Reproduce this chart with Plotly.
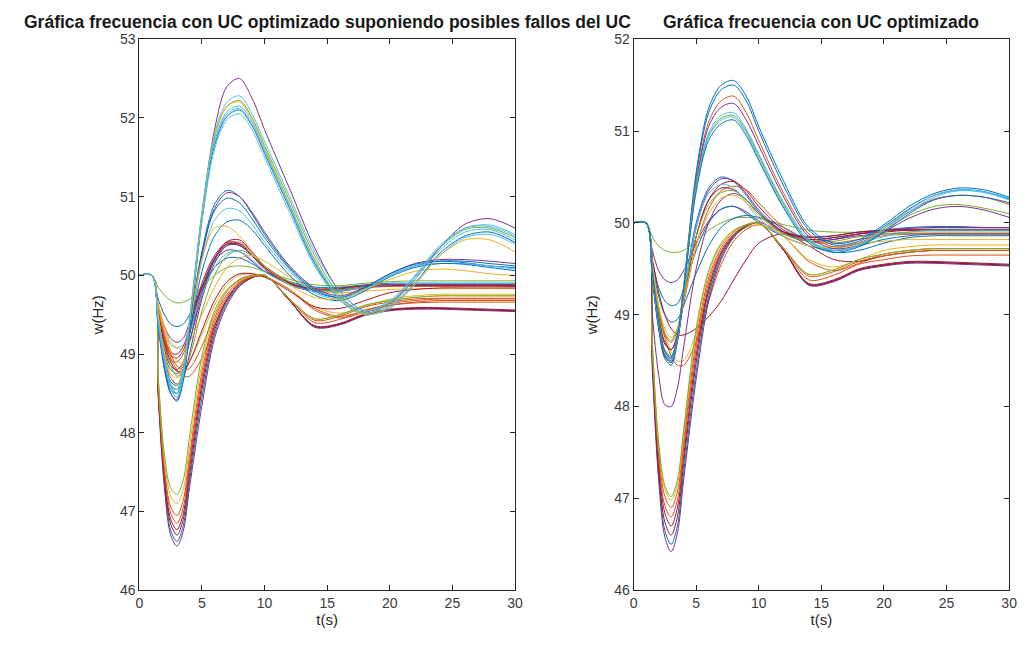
import plotly.graph_objects as go

# Sample instants (s) shared by every frequency trace
T = [0, 1, 1.5, 2, 2.5, 3, 3.5, 4, 5, 6, 7, 8, 9, 10, 12, 14, 16, 18, 20, 22, 24, 26, 28, 30]

X_TICKS = [0, 5, 10, 15, 20, 25, 30]
Y_TICKS_LEFT = [46, 47, 48, 49, 50, 51, 52, 53]
Y_TICKS_RIGHT = [46, 47, 48, 49, 50, 51, 52]

TITLE_LEFT = "Gráfica frecuencia con UC optimizado suponiendo posibles fallos del UC"
TITLE_RIGHT = "Gráfica frecuencia con UC optimizado"

# ---- Left panel: UC with possible unit failures (w in Hz) ----
left_big = [
    [50, 50, 49.45, 48.95, 48.6, 48.5, 48.75, 49.35, 50.75, 51.85, 52.4, 52.5, 52.25, 51.85, 51.1, 50.35, 49.8, 49.55, 49.65, 49.95, 50.35, 50.65, 50.72, 50.6],
    [50, 50, 49.4, 48.9, 48.55, 48.45, 48.7, 49.35, 50.8, 51.8, 52.2, 52.28, 52.05, 51.7, 51.0, 50.3, 49.8, 49.55, 49.68, 50.0, 50.38, 50.6, 50.62, 50.5],
    [50, 50, 49.45, 48.95, 48.6, 48.5, 48.75, 49.4, 50.8, 51.75, 52.15, 52.22, 52.0, 51.65, 50.95, 50.25, 49.75, 49.52, 49.65, 49.98, 50.35, 50.58, 50.6, 50.48],
    [50, 50, 49.4, 48.9, 48.55, 48.45, 48.7, 49.4, 50.75, 51.7, 52.08, 52.15, 51.95, 51.6, 50.9, 50.2, 49.72, 49.52, 49.62, 49.95, 50.32, 50.55, 50.58, 50.45],
    [50, 50, 49.35, 48.85, 48.5, 48.4, 48.65, 49.3, 50.7, 51.65, 52.02, 52.1, 51.9, 51.55, 50.85, 50.15, 49.7, 49.5, 49.6, 49.9, 50.28, 50.5, 50.55, 50.42],
    [50, 50, 49.4, 48.9, 48.6, 48.5, 48.75, 49.4, 50.7, 51.6, 51.98, 52.05, 51.85, 51.5, 50.8, 50.12, 49.68, 49.5, 49.58, 49.88, 50.25, 50.48, 50.52, 50.4],
    [50, 50, 49.5, 49.0, 48.7, 48.6, 48.8, 49.4, 50.75, 51.75, 52.15, 52.2, 51.98, 51.62, 50.9, 50.2, 49.7, 49.5, 49.6, 49.9, 50.25, 50.45, 50.45, 50.3],
    [50, 50, 49.45, 48.95, 48.62, 48.55, 48.8, 49.45, 50.78, 51.7, 52.05, 52.12, 51.92, 51.58, 50.88, 50.18, 49.72, 49.55, 49.66, 49.98, 50.36, 50.6, 50.64, 50.52],
]
left_big_colors = ["#7E2F8E", "#4DBEEE", "#77AC30", "#4DBEEE", "#0072BD", "#4DBEEE", "#EDB120", "#4DBEEE"]

left_mid = [
    [50, 50, 49.4, 48.85, 48.55, 48.5, 48.75, 49.3, 50.3, 50.9, 51.08, 51.0, 50.78, 50.52, 50.1, 49.82, 49.72, 49.82, 50.0, 50.12, 50.18, 50.18, 50.15, 50.12],
    [50, 50, 49.35, 48.8, 48.5, 48.42, 48.7, 49.25, 50.25, 50.85, 51.05, 51.0, 50.8, 50.55, 50.12, 49.84, 49.74, 49.85, 50.02, 50.15, 50.2, 50.2, 50.18, 50.15],
    [50, 50, 49.45, 48.9, 48.6, 48.55, 48.8, 49.35, 50.3, 50.82, 50.98, 50.92, 50.72, 50.48, 50.08, 49.8, 49.72, 49.84, 50.02, 50.14, 50.18, 50.16, 50.12, 50.1],
    [50, 50, 49.4, 48.9, 48.6, 48.55, 48.8, 49.3, 50.2, 50.7, 50.85, 50.82, 50.65, 50.42, 50.05, 49.78, 49.7, 49.82, 50.0, 50.12, 50.15, 50.15, 50.12, 50.08],
    [50, 50, 49.45, 48.95, 48.65, 48.6, 48.8, 49.25, 50.05, 50.5, 50.68, 50.7, 50.58, 50.38, 50.0, 49.75, 49.68, 49.8, 49.98, 50.1, 50.15, 50.14, 50.1, 50.06],
    [50, 50, 49.5, 49.0, 48.75, 48.7, 48.9, 49.35, 50.2, 50.6, 50.62, 50.5, 50.3, 50.12, 49.88, 49.72, 49.7, 49.82, 49.95, 50.05, 50.08, 50.06, 50.02, 50.0],
]
left_mid_colors = ["#0072BD", "#7E2F8E", "#0072BD", "#4DBEEE", "#0072BD", "#EDB120"]

left_normal = [
    [50, 50, 49.85, 49.75, 49.68, 49.65, 49.66, 49.7, 49.85, 50.0, 50.1, 50.12, 50.1, 50.05, 49.95, 49.88, 49.87, 49.9, 49.92, 49.93, 49.93, 49.93, 49.93, 49.93],
    [50, 50, 49.7, 49.5, 49.38, 49.35, 49.38, 49.5, 49.85, 50.1, 50.22, 50.22, 50.15, 50.05, 49.92, 49.85, 49.85, 49.88, 49.9, 49.9, 49.9, 49.9, 49.9, 49.9],
    [50, 50, 49.6, 49.35, 49.2, 49.15, 49.2, 49.4, 49.85, 50.18, 50.32, 50.3, 50.18, 50.05, 49.9, 49.82, 49.82, 49.86, 49.88, 49.88, 49.88, 49.88, 49.88, 49.88],
    [50, 50, 49.55, 49.2, 49.02, 49.0, 49.1, 49.35, 49.9, 50.25, 50.42, 50.4, 50.25, 50.08, 49.88, 49.82, 49.83, 49.86, 49.87, 49.87, 49.87, 49.87, 49.87, 49.87],
    [50, 50, 49.5, 49.1, 48.92, 48.9, 49.0, 49.25, 49.8, 50.2, 50.4, 50.42, 50.3, 50.12, 49.9, 49.8, 49.8, 49.84, 49.86, 49.86, 49.86, 49.86, 49.86, 49.86],
    [50, 50, 49.45, 49.05, 48.85, 48.8, 48.9, 49.15, 49.75, 50.2, 50.43, 50.45, 50.3, 50.12, 49.88, 49.8, 49.82, 49.86, 49.87, 49.87, 49.87, 49.87, 49.87, 49.86],
    [50, 50, 49.45, 49.0, 48.8, 48.75, 48.85, 49.15, 49.8, 50.2, 50.38, 50.38, 50.25, 50.1, 49.9, 49.82, 49.82, 49.86, 49.88, 49.88, 49.88, 49.88, 49.88, 49.88],
    [50, 50, 49.5, 49.1, 48.85, 48.72, 48.75, 48.95, 49.55, 50.0, 50.25, 50.32, 50.25, 50.12, 49.92, 49.82, 49.82, 49.86, 49.88, 49.88, 49.88, 49.88, 49.88, 49.88],
    [50, 50, 49.4, 48.95, 48.7, 48.62, 48.7, 49.0, 49.7, 50.15, 50.38, 50.4, 50.28, 50.12, 49.9, 49.8, 49.8, 49.85, 49.87, 49.87, 49.87, 49.87, 49.87, 49.87],
    [50, 50, 49.6, 49.3, 49.12, 49.08, 49.12, 49.3, 49.75, 50.1, 50.28, 50.3, 50.2, 50.05, 49.88, 49.8, 49.8, 49.85, 49.88, 49.9, 49.9, 49.9, 49.9, 49.9],
    [50, 50, 49.5, 49.15, 48.98, 48.95, 49.05, 49.3, 49.85, 50.22, 50.4, 50.38, 50.25, 50.1, 49.9, 49.83, 49.84, 49.87, 49.88, 49.88, 49.88, 49.88, 49.88, 49.88],
    [50, 50, 49.65, 49.35, 49.15, 49.08, 49.05, 49.15, 49.5, 49.85, 50.1, 50.22, 50.25, 50.18, 49.98, 49.82, 49.78, 49.8, 49.82, 49.83, 49.83, 49.83, 49.83, 49.83],
]
left_normal_colors = ["#77AC30", "#0072BD", "#7E2F8E", "#A2142F", "#D95319", "#A2142F",
                      "#0072BD", "#77AC30", "#7E2F8E", "#4DBEEE", "#A2142F", "#EDB120"]

left_deep = [
    [50, 50, 48.45, 47.3, 46.7, 46.56, 46.75, 47.3, 48.35, 49.2, 49.62, 49.86, 49.97, 50.0, 49.68, 49.34, 49.37, 49.49, 49.55, 49.57, 49.57, 49.56, 49.55, 49.54],
    [50, 50, 48.5, 47.35, 46.76, 46.62, 46.82, 47.38, 48.45, 49.25, 49.65, 49.87, 49.97, 50.0, 49.68, 49.35, 49.38, 49.5, 49.56, 49.58, 49.58, 49.57, 49.56, 49.55],
    [50, 50, 48.52, 47.4, 46.84, 46.7, 46.9, 47.46, 48.55, 49.3, 49.68, 49.88, 49.97, 50.0, 49.68, 49.36, 49.39, 49.51, 49.57, 49.59, 49.59, 49.58, 49.57, 49.56],
    [50, 50, 48.55, 47.45, 46.9, 46.77, 46.97, 47.55, 48.62, 49.35, 49.7, 49.9, 49.98, 50.0, 49.68, 49.35, 49.38, 49.5, 49.56, 49.58, 49.58, 49.57, 49.56, 49.55],
    [50, 50, 48.58, 47.5, 46.98, 46.85, 47.05, 47.62, 48.7, 49.4, 49.73, 49.9, 49.98, 50.0, 49.7, 49.4, 49.44, 49.56, 49.62, 49.65, 49.66, 49.66, 49.66, 49.66],
    [50, 50, 48.62, 47.56, 47.06, 46.95, 47.14, 47.7, 48.78, 49.45, 49.76, 49.92, 49.98, 50.0, 49.7, 49.43, 49.48, 49.6, 49.66, 49.7, 49.71, 49.71, 49.71, 49.71],
    [50, 50, 48.68, 47.65, 47.2, 47.1, 47.28, 47.82, 48.88, 49.5, 49.8, 49.93, 49.99, 50.0, 49.7, 49.45, 49.5, 49.62, 49.68, 49.72, 49.74, 49.74, 49.74, 49.74],
    [50, 50, 48.72, 47.72, 47.3, 47.22, 47.4, 47.95, 48.98, 49.55, 49.82, 49.94, 49.99, 50.0, 49.7, 49.45, 49.5, 49.62, 49.68, 49.72, 49.74, 49.74, 49.74, 49.74],
]
left_deep_colors = ["#7E2F8E", "#0072BD", "#A2142F", "#A2142F", "#D95319", "#D95319", "#EDB120", "#77AC30"]

left_slow = [
    [50, 50, 49.6, 49.25, 49.0, 48.85, 48.8, 48.82, 49.1, 49.5, 49.8, 49.95, 50.0, 49.98, 49.82, 49.58, 49.48, 49.55, 49.64, 49.68, 49.7, 49.7, 49.7, 49.7],
    [50, 50, 49.55, 49.2, 48.95, 48.8, 48.72, 48.72, 48.95, 49.35, 49.7, 49.9, 49.98, 49.98, 49.82, 49.56, 49.46, 49.53, 49.62, 49.66, 49.68, 49.68, 49.68, 49.68],
    [50, 50, 49.6, 49.3, 49.05, 48.92, 48.88, 48.92, 49.25, 49.62, 49.88, 50.0, 50.02, 49.98, 49.82, 49.6, 49.52, 49.6, 49.7, 49.74, 49.76, 49.76, 49.76, 49.76],
    [50, 50, 49.5, 49.15, 48.9, 48.78, 48.78, 48.9, 49.3, 49.68, 49.92, 50.02, 50.02, 49.98, 49.8, 49.6, 49.58, 49.68, 49.78, 49.82, 49.84, 49.84, 49.84, 49.84],
]
left_slow_colors = ["#D95319", "#D95319", "#EDB120", "#A2142F"]

# ---- Right panel: optimised UC (w in Hz) ----
right_big = [
    [50, 50, 49.4, 48.85, 48.52, 48.45, 48.7, 49.3, 50.55, 51.25, 51.5, 51.55, 51.38, 51.05, 50.45, 49.95, 49.78, 49.82, 49.98, 50.18, 50.32, 50.38, 50.36, 50.28],
    [50, 50, 49.42, 48.88, 48.55, 48.48, 48.72, 49.3, 50.5, 51.2, 51.45, 51.5, 51.33, 51.0, 50.4, 49.92, 49.76, 49.8, 49.96, 50.15, 50.3, 50.36, 50.34, 50.26],
    [50, 50, 49.45, 48.9, 48.58, 48.5, 48.75, 49.3, 50.45, 51.1, 51.33, 51.38, 51.2, 50.9, 50.32, 49.88, 49.74, 49.78, 49.94, 50.12, 50.26, 50.3, 50.28, 50.2],
    [50, 50, 49.42, 48.88, 48.55, 48.48, 48.72, 49.25, 50.4, 51.05, 51.26, 51.3, 51.12, 50.84, 50.28, 49.85, 49.72, 49.76, 49.9, 50.05, 50.15, 50.18, 50.14, 50.06],
    [50, 50, 49.45, 48.92, 48.6, 48.52, 48.75, 49.28, 50.4, 50.98, 51.17, 51.2, 51.02, 50.75, 50.22, 49.82, 49.7, 49.75, 49.92, 50.12, 50.28, 50.35, 50.33, 50.25],
    [50, 50, 49.48, 48.95, 48.62, 48.55, 48.78, 49.3, 50.38, 50.95, 51.14, 51.17, 51.0, 50.73, 50.2, 49.8, 49.7, 49.76, 49.92, 50.08, 50.18, 50.2, 50.16, 50.1],
    [50, 50, 49.44, 48.9, 48.58, 48.5, 48.74, 49.26, 50.36, 50.94, 51.12, 51.15, 50.98, 50.7, 50.18, 49.8, 49.7, 49.76, 49.94, 50.14, 50.3, 50.36, 50.34, 50.27],
    [50, 50, 49.46, 48.93, 48.6, 48.53, 48.77, 49.28, 50.34, 50.9, 51.08, 51.12, 50.95, 50.68, 50.16, 49.78, 49.68, 49.74, 49.9, 50.1, 50.25, 50.3, 50.28, 50.22],
]
right_big_colors = ["#0072BD", "#0072BD", "#D95319", "#7E2F8E", "#4DBEEE", "#77AC30", "#4DBEEE", "#0072BD"]

right_mid = [
    [50, 50, 49.4, 48.85, 48.55, 48.5, 48.72, 49.2, 50.0, 50.38, 50.5, 50.45, 50.3, 50.12, 49.9, 49.82, 49.84, 49.88, 49.92, 49.95, 49.96, 49.96, 49.95, 49.95],
    [50, 50, 49.45, 48.9, 48.6, 48.52, 48.72, 49.15, 49.95, 50.35, 50.48, 50.46, 50.32, 50.14, 49.9, 49.8, 49.82, 49.88, 49.92, 49.94, 49.95, 49.95, 49.95, 49.95],
    [50, 50, 49.5, 49.0, 48.7, 48.62, 48.78, 49.15, 49.85, 50.25, 50.42, 50.45, 50.35, 50.18, 49.92, 49.82, 49.84, 49.88, 49.9, 49.92, 49.92, 49.92, 49.92, 49.92],
    [50, 50, 49.5, 49.05, 48.78, 48.7, 48.82, 49.12, 49.75, 50.15, 50.35, 50.4, 50.36, 50.22, 49.95, 49.8, 49.78, 49.82, 49.86, 49.88, 49.88, 49.88, 49.88, 49.88],
    [50, 50, 49.45, 48.95, 48.68, 48.62, 48.78, 49.15, 49.85, 50.25, 50.38, 50.36, 50.25, 50.1, 49.9, 49.84, 49.86, 49.9, 49.92, 49.92, 49.92, 49.92, 49.92, 49.92],
    [50, 50, 49.42, 48.9, 48.6, 48.55, 48.75, 49.2, 49.95, 50.32, 50.42, 50.38, 50.22, 50.05, 49.85, 49.75, 49.72, 49.78, 49.85, 49.9, 49.92, 49.92, 49.92, 49.92],
    [50, 50, 49.5, 49.05, 48.8, 48.72, 48.85, 49.2, 49.85, 50.2, 50.33, 50.35, 50.25, 50.1, 49.88, 49.8, 49.8, 49.85, 49.88, 49.9, 49.9, 49.9, 49.9, 49.9],
    [50, 50, 49.55, 49.1, 48.85, 48.75, 48.85, 49.15, 49.75, 50.1, 50.27, 50.3, 50.22, 50.08, 49.86, 49.75, 49.74, 49.78, 49.8, 49.82, 49.82, 49.82, 49.82, 49.82],
]
right_mid_colors = ["#0072BD", "#7E2F8E", "#A2142F", "#D95319", "#A2142F", "#4DBEEE", "#77AC30", "#EDB120"]

right_normal = [
    [50, 50, 49.85, 49.75, 49.7, 49.68, 49.68, 49.7, 49.8, 49.92, 50.0, 50.05, 50.06, 50.05, 49.98, 49.92, 49.9, 49.9, 49.92, 49.93, 49.93, 49.93, 49.93, 49.93],
    [50, 50, 49.7, 49.48, 49.38, 49.35, 49.38, 49.48, 49.78, 50.02, 50.15, 50.18, 50.12, 50.02, 49.9, 49.85, 49.86, 49.9, 49.92, 49.93, 49.93, 49.93, 49.93, 49.93],
    [50, 50, 49.6, 49.3, 49.15, 49.1, 49.12, 49.28, 49.7, 50.0, 50.15, 50.18, 50.1, 50.0, 49.85, 49.75, 49.7, 49.75, 49.82, 49.86, 49.88, 49.88, 49.88, 49.88],
    [50, 50, 49.55, 49.2, 49.0, 48.92, 48.95, 49.1, 49.45, 49.75, 49.95, 50.05, 50.08, 50.06, 49.95, 49.8, 49.68, 49.7, 49.78, 49.84, 49.86, 49.86, 49.86, 49.86],
]
right_normal_colors = ["#77AC30", "#7E2F8E", "#0072BD", "#0072BD"]

right_deep = [
    [50, 50, 48.4, 47.2, 46.58, 46.42, 46.62, 47.2, 48.3, 49.15, 49.6, 49.84, 49.96, 50.0, 49.7, 49.32, 49.36, 49.48, 49.53, 49.56, 49.56, 49.55, 49.54, 49.53],
    [50, 50, 48.45, 47.26, 46.65, 46.5, 46.7, 47.28, 48.38, 49.2, 49.63, 49.85, 49.96, 50.0, 49.7, 49.33, 49.37, 49.49, 49.54, 49.57, 49.57, 49.56, 49.55, 49.54],
    [50, 50, 48.5, 47.32, 46.74, 46.6, 46.8, 47.38, 48.48, 49.26, 49.66, 49.86, 49.97, 50.0, 49.7, 49.34, 49.38, 49.5, 49.55, 49.58, 49.58, 49.57, 49.56, 49.55],
    [50, 50, 48.55, 47.4, 46.84, 46.7, 46.9, 47.46, 48.56, 49.3, 49.68, 49.87, 49.97, 50.0, 49.7, 49.33, 49.37, 49.49, 49.54, 49.57, 49.57, 49.56, 49.55, 49.54],
    [50, 50, 48.58, 47.45, 46.92, 46.8, 46.98, 47.55, 48.64, 49.35, 49.7, 49.88, 49.97, 50.0, 49.72, 49.38, 49.43, 49.55, 49.6, 49.64, 49.65, 49.65, 49.65, 49.65],
    [50, 50, 48.62, 47.52, 47.02, 46.9, 47.07, 47.62, 48.72, 49.4, 49.73, 49.9, 49.98, 50.0, 49.72, 49.42, 49.47, 49.58, 49.64, 49.68, 49.7, 49.7, 49.7, 49.7],
    [50, 50, 48.66, 47.58, 47.1, 46.98, 47.15, 47.7, 48.8, 49.45, 49.76, 49.91, 49.98, 50.0, 49.72, 49.44, 49.49, 49.6, 49.66, 49.7, 49.72, 49.72, 49.72, 49.72],
    [50, 50, 48.68, 47.62, 47.14, 47.02, 47.2, 47.75, 48.85, 49.48, 49.78, 49.92, 49.98, 50.0, 49.72, 49.44, 49.49, 49.6, 49.66, 49.7, 49.72, 49.72, 49.72, 49.72],
    [50, 50, 49.0, 48.35, 48.02, 48.0, 48.2, 48.65, 49.5, 50.0, 50.25, 50.32, 50.25, 50.1, 49.88, 49.8, 49.82, 49.86, 49.88, 49.88, 49.88, 49.88, 49.88, 49.88],
]
right_deep_colors = ["#7E2F8E", "#0072BD", "#A2142F", "#A2142F", "#D95319", "#D95319", "#EDB120", "#77AC30", "#7E2F8E"]

right_slow = [
    [50, 50, 49.5, 49.05, 48.75, 48.55, 48.45, 48.45, 48.7, 49.15, 49.55, 49.8, 49.93, 49.98, 49.85, 49.58, 49.48, 49.56, 49.66, 49.7, 49.72, 49.72, 49.72, 49.72],
    [50, 50, 49.55, 49.1, 48.8, 48.6, 48.5, 48.5, 48.8, 49.25, 49.62, 49.85, 49.95, 49.98, 49.85, 49.6, 49.52, 49.6, 49.7, 49.74, 49.76, 49.76, 49.76, 49.76],
    [50, 50, 49.6, 49.25, 49.0, 48.85, 48.78, 48.78, 48.85, 48.98, 49.15, 49.38, 49.6, 49.78, 49.88, 49.75, 49.6, 49.58, 49.64, 49.68, 49.7, 49.7, 49.7, 49.7],
]
right_slow_colors = ["#D95319", "#EDB120", "#A2142F"]

LEFT_GROUPS = [(left_normal, left_normal_colors), (left_slow, left_slow_colors),
               (left_deep, left_deep_colors), (left_mid, left_mid_colors),
               (left_big, left_big_colors)]
RIGHT_GROUPS = [(right_normal, right_normal_colors), (right_slow, right_slow_colors),
                (right_deep, right_deep_colors), (right_mid, right_mid_colors),
                (right_big, right_big_colors)]

W, H = 1029, 648
# axes boxes in pixels: (left, right, top, bottom)
BOX_L = (137, 517, 32, 597)
BOX_R = (637, 1017, 32, 597)

fig = go.Figure()

def add_panel(groups, xa, ya):
    for series, colors in groups:
        for ys, c in zip(series, colors):
            fig.add_trace(go.Scatter(
                x=T, y=ys, mode="lines", xaxis=xa, yaxis=ya,
                line=dict(color=c, width=1, shape="spline", smoothing=0.9),
                showlegend=False, hoverinfo="skip"))

add_panel(LEFT_GROUPS, "x", "y")
add_panel(RIGHT_GROUPS, "x2", "y2")

axis_font = dict(family="Liberation Sans, Arial, sans-serif", size=14, color="#3a3a3a")
label_font = dict(family="Liberation Sans, Arial, sans-serif", size=15, color="#262626")
common = dict(showline=True, mirror="ticks", linecolor="#262626", linewidth=1,
              ticks="inside", ticklen=5, tickcolor="#262626", showgrid=False,
              zeroline=False, tickfont=axis_font)

def xdom(box):
    return [box[0] / W, box[1] / W]

def ydom(box):
    return [(H - box[3]) / H, (H - box[2]) / H]

fig.update_layout(
    width=W, height=H, margin=dict(l=0, r=0, t=0, b=0),
    paper_bgcolor="white", plot_bgcolor="white",
    xaxis=dict(domain=xdom(BOX_L), range=[0, 30], tickvals=X_TICKS, anchor="y",
               title=dict(text="t(s)", font=label_font, standoff=4), **common),
    yaxis=dict(domain=ydom(BOX_L), range=[46, 53], tickvals=Y_TICKS_LEFT, anchor="x",
               title=dict(text="w(Hz)", font=label_font, standoff=12), **common),
    xaxis2=dict(domain=xdom(BOX_R), range=[0, 30], tickvals=X_TICKS, anchor="y2",
                title=dict(text="t(s)", font=label_font, standoff=4), **common),
    yaxis2=dict(domain=ydom(BOX_R), range=[46, 52], tickvals=Y_TICKS_RIGHT, anchor="x2",
                title=dict(text="w(Hz)", font=label_font, standoff=12), **common),
)

title_font = dict(family="Liberation Sans, Arial, sans-serif", size=17.5, color="#1a1a1a")
for text, box in ((TITLE_LEFT, BOX_L), (TITLE_RIGHT, BOX_R)):
    fig.add_annotation(text="<b>" + text + "</b>", xref="paper", yref="paper",
                       x=(box[0] + box[1]) / 2 / W, y=(H - 14) / H,
                       xanchor="center", yanchor="middle", showarrow=False, font=title_font)

fig.write_html("out.html")
